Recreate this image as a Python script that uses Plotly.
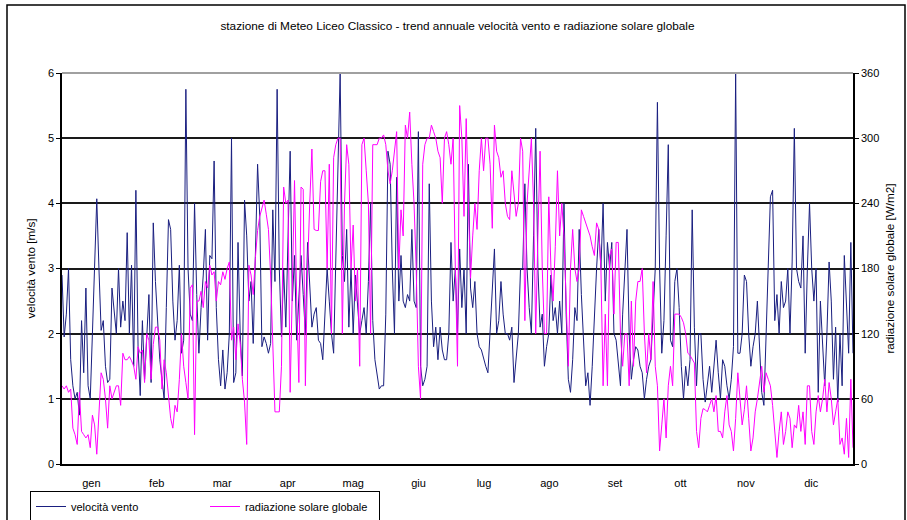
import plotly.graph_objects as go

months = ["gen", "feb", "mar", "apr", "mag", "giu", "lug", "ago", "set", "ott", "nov", "dic"]
month_tick_day = [13.5, 43.6, 73.7, 103.9, 134.0, 164.1, 194.2, 224.3, 254.5, 284.6, 314.7, 344.8]

# velocità vento [m/s], daily values per month
wind_gen = [2.9, 1.95, 2.3, 3.0, 1.6, 1.2, 1.0, 1.1, 0.75, 2.2, 1.4, 2.7, 1.2, 1.0, 2.0, 2.9, 4.07, 3.0, 2.05, 2.2, 1.5, 1.25, 1.3, 2.7, 2.4, 2.0, 3.0, 2.1, 2.5, 2.2, 3.55]
wind_feb = [2.0, 3.05, 1.5, 4.2, 1.8, 1.05, 2.2, 1.3, 1.9, 2.6, 1.25, 3.7, 2.8, 2.1, 1.6, 1.3, 1.0, 2.4, 3.75, 3.6, 2.5, 1.9, 2.2, 3.05, 1.7, 1.9, 5.75, 3.0]
wind_mar = [2.3, 2.2, 4.0, 2.6, 1.7, 2.4, 2.9, 3.6, 1.9, 3.2, 3.15, 4.65, 2.4, 1.6, 1.2, 1.75, 1.15, 1.4, 2.0, 5.0, 1.25, 1.4, 3.4, 2.0, 1.35, 4.05, 3.5, 2.5, 2.8, 1.85, 3.2]
wind_apr = [4.6, 3.8, 1.8, 1.95, 1.85, 1.7, 1.85, 3.9, 2.8, 5.75, 3.0, 1.95, 3.0, 2.1, 3.5, 4.8, 2.5, 3.2, 1.9, 2.6, 3.2, 2.6, 2.0, 3.4, 2.7, 2.1, 2.3, 2.4, 1.9, 1.85]
wind_mag = [1.6, 2.2, 3.0, 2.5, 2.0, 1.7, 3.0, 4.5, 6.0, 3.2, 2.8, 3.6, 2.1, 3.0, 2.0, 2.9, 2.5, 2.0, 2.2, 2.4, 2.0, 2.8, 4.0, 2.2, 1.6, 1.4, 1.15, 1.2, 1.2, 2.3, 4.8]
wind_giu = [4.6, 3.0, 2.0, 4.4, 2.5, 3.2, 2.5, 2.4, 2.6, 2.5, 3.6, 2.5, 2.4, 5.1, 1.5, 1.2, 1.3, 1.5, 4.3, 2.5, 1.8, 2.1, 1.6, 2.1, 1.75, 1.6, 1.6, 2.0, 3.4, 2.5]
wind_lug = [3.0, 2.0, 3.3, 2.4, 3.0, 2.0, 4.6, 2.7, 2.4, 2.8, 2.0, 1.8, 1.75, 1.6, 1.5, 1.4, 2.1, 2.6, 3.3, 2.0, 2.2, 2.8, 2.3, 2.0, 2.0, 1.9, 2.1, 1.25, 1.7, 2.0, 3.0]
wind_ago = [3.0, 4.3, 3.0, 2.4, 2.0, 3.5, 5.15, 3.0, 2.1, 2.3, 1.5, 1.8, 2.0, 2.9, 2.2, 2.4, 2.0, 2.5, 2.0, 4.0, 2.3, 1.3, 1.1, 1.6, 2.4, 2.2, 3.6, 2.6, 2.0, 1.2, 1.4]
wind_set = [0.9, 1.5, 2.3, 3.0, 3.6, 3.0, 4.0, 2.5, 3.4, 3.0, 3.4, 2.0, 1.9, 1.6, 1.2, 2.3, 2.9, 3.6, 2.0, 1.3, 1.6, 1.8, 1.75, 1.5, 1.4, 1.0, 1.3, 1.5, 1.6, 2.3]
wind_ott = [3.0, 5.55, 3.0, 1.7, 2.2, 3.5, 4.9, 1.9, 1.8, 2.8, 3.0, 2.4, 1.5, 1.0, 1.5, 1.2, 1.6, 3.9, 2.1, 1.2, 2.0, 2.0, 1.3, 0.95, 1.2, 1.5, 1.1, 1.5, 1.9, 1.4, 1.0]
wind_nov = [1.6, 1.5, 1.2, 1.0, 1.3, 1.8, 6.0, 1.7, 1.7, 2.0, 2.9, 2.8, 2.0, 1.5, 1.8, 2.0, 2.5, 1.8, 1.1, 0.9, 2.0, 3.0, 4.1, 4.2, 2.2, 2.6, 2.0, 2.8, 2.4, 2.5]
wind_dic = [3.0, 2.0, 3.1, 5.15, 3.0, 2.8, 2.7, 3.5, 1.7, 3.0, 4.0, 3.0, 2.5, 3.0, 1.1, 2.5, 1.9, 1.2, 2.0, 3.1, 2.5, 1.3, 2.1, 0.95, 2.0, 1.2, 3.2, 2.5, 1.7, 3.4, 1.7]

# radiazione solare globale [W/m2], daily values per month
rad_gen = [72, 69, 72, 66, 69, 33, 27, 18, 66, 30, 27, 24, 27, 15, 45, 36, 9, 45, 84, 78, 60, 33, 72, 60, 66, 72, 72, 54, 102, 96, 96]
rad_feb = [99, 95, 90, 78, 108, 102, 105, 75, 120, 114, 78, 110, 126, 126, 114, 69, 96, 84, 60, 42, 33, 54, 48, 78, 120, 90, 75, 60]
rad_mar = [162, 165, 27, 150, 150, 159, 144, 168, 162, 183, 174, 177, 150, 168, 165, 177, 170, 180, 186, 114, 126, 96, 129, 111, 78, 57, 18, 183, 174, 156, 190]
rad_apr = [215, 228, 235, 243, 230, 216, 174, 120, 48, 48, 48, 90, 255, 240, 243, 66, 180, 261, 150, 75, 255, 253, 72, 180, 240, 290, 216, 215, 215, 260]
rad_mag = [270, 270, 180, 276, 120, 282, 294, 300, 300, 120, 240, 294, 276, 180, 220, 150, 180, 90, 294, 300, 270, 240, 120, 294, 294, 294, 300, 300, 303, 294, 270]
rad_giu = [258, 270, 290, 306, 180, 234, 210, 312, 300, 324, 276, 240, 180, 90, 60, 276, 294, 300, 300, 312, 306, 300, 288, 282, 240, 300, 306, 294, 276, 300]
rad_lug = [180, 90, 330, 300, 228, 318, 240, 171, 210, 240, 216, 270, 300, 270, 300, 300, 276, 217, 312, 288, 282, 264, 270, 240, 228, 225, 270, 252, 228, 240, 300]
rad_ago = [288, 132, 240, 270, 300, 240, 120, 210, 288, 180, 120, 120, 246, 180, 150, 200, 270, 210, 240, 210, 150, 90, 180, 216, 180, 168, 180, 234, 228, 222, 216]
rad_set = [210, 200, 192, 222, 216, 180, 72, 138, 72, 192, 198, 138, 204, 204, 120, 90, 120, 120, 72, 150, 90, 150, 168, 168, 180, 120, 84, 120, 96, 168]
rad_ott = [90, 72, 12, 36, 60, 24, 72, 90, 72, 138, 138, 138, 135, 130, 120, 102, 100, 96, 93, 30, 15, 42, 51, 50, 48, 54, 60, 48, 63, 30, 30]
rad_nov = [24, 48, 63, 36, 30, 12, 42, 84, 60, 36, 50, 72, 42, 12, 24, 48, 60, 75, 90, 66, 84, 78, 72, 54, 30, 6, 30, 48, 18, 30]
rad_dic = [48, 42, 15, 36, 33, 54, 30, 48, 18, 72, 72, 30, 18, 48, 63, 48, 60, 78, 48, 75, 60, 36, 48, 60, 18, 24, 9, 42, 6, 78, 15]

wind = (wind_gen + wind_feb + wind_mar + wind_apr + wind_mag + wind_giu +
        wind_lug + wind_ago + wind_set + wind_ott + wind_nov + wind_dic)
rad = (rad_gen + rad_feb + rad_mar + rad_apr + rad_mag + rad_giu +
       rad_lug + rad_ago + rad_set + rad_ott + rad_nov + rad_dic)
days = list(range(len(wind)))

FONT = "Liberation Sans, Arial, sans-serif"

fig = go.Figure()
fig.add_trace(go.Scatter(x=days, y=wind, mode="lines", name="velocità vento",
                         line=dict(color="#1a1f80", width=1), yaxis="y"))
fig.add_trace(go.Scatter(x=list(range(len(rad))), y=rad, mode="lines",
                         name="radiazione solare globale",
                         line=dict(color="#ff00ff", width=1), yaxis="y2"))

W, H = 907, 520
L, R, T, B = 62, 54, 73, 56
pw, ph = W - L - R, H - T - B

def px_x(x):
    return (x - L) / pw

def px_y(y):
    return (H - B - y) / ph

fig.update_layout(
    width=W, height=H,
    margin=dict(l=L, r=R, t=T, b=B, autoexpand=False),
    paper_bgcolor="white", plot_bgcolor="white",
    font=dict(family=FONT, size=11, color="black"),
    title=dict(text="stazione di Meteo Liceo Classico - trend annuale velocità vento e radiazione solare globale",
               x=0.5, xref="paper", xanchor="center", y=(H - 26) / H, yanchor="middle",
               font=dict(family=FONT, size=11.8, color="black")),
    showlegend=True,
    legend=dict(orientation="h", xref="container", yref="container",
                x=30 / W, y=(H - 491) / H, xanchor="left", yanchor="top",
                bordercolor="black", borderwidth=1, bgcolor="white",
                font=dict(family=FONT, size=11, color="black"),
                entrywidth=129, entrywidthmode="pixels", itemwidth=30),
    xaxis=dict(range=[0, len(wind) - 1], tickmode="array", tickvals=month_tick_day,
               ticktext=months, showgrid=False, zeroline=False,
               showline=True, linecolor="black", linewidth=1.5,
               ticks="outside", ticklen=8, tickcolor="rgba(0,0,0,0)",
               tickfont=dict(family=FONT, size=11)),
    yaxis=dict(range=[0, 6], dtick=1, showgrid=True, gridcolor="#1a1a1a", gridwidth=1.5,
               zeroline=False, showline=True, linecolor="black", linewidth=1.5,
               ticks="outside", ticklen=4, tickcolor="black",
               title=dict(text="velocità vento [m/s]", standoff=10,
                          font=dict(family=FONT, size=11.7)),
               tickfont=dict(family=FONT, size=11)),
    yaxis2=dict(range=[0, 360], dtick=60, overlaying="y", side="right",
                showgrid=False, zeroline=False, showline=True, linecolor="black",
                linewidth=1.5, ticks="outside", ticklen=4, tickcolor="black",
                title=dict(text="radiazione solare globale [W/m2]", standoff=8,
                           font=dict(family=FONT, size=11.7)),
                tickfont=dict(family=FONT, size=11)),
    shapes=[
        # gray top border of the plot area
        dict(type="line", xref="paper", yref="paper", x0=0, x1=1, y0=1, y1=1,
             line=dict(color="#a0a0a0", width=2)),
        # outer chart frame
        dict(type="rect", xref="paper", yref="paper",
             x0=px_x(7), x1=px_x(905), y0=px_y(530), y1=px_y(5),
             line=dict(color="black", width=1.5), fillcolor="rgba(0,0,0,0)", layer="above"),
    ],
)

fig.write_html("out.html")
